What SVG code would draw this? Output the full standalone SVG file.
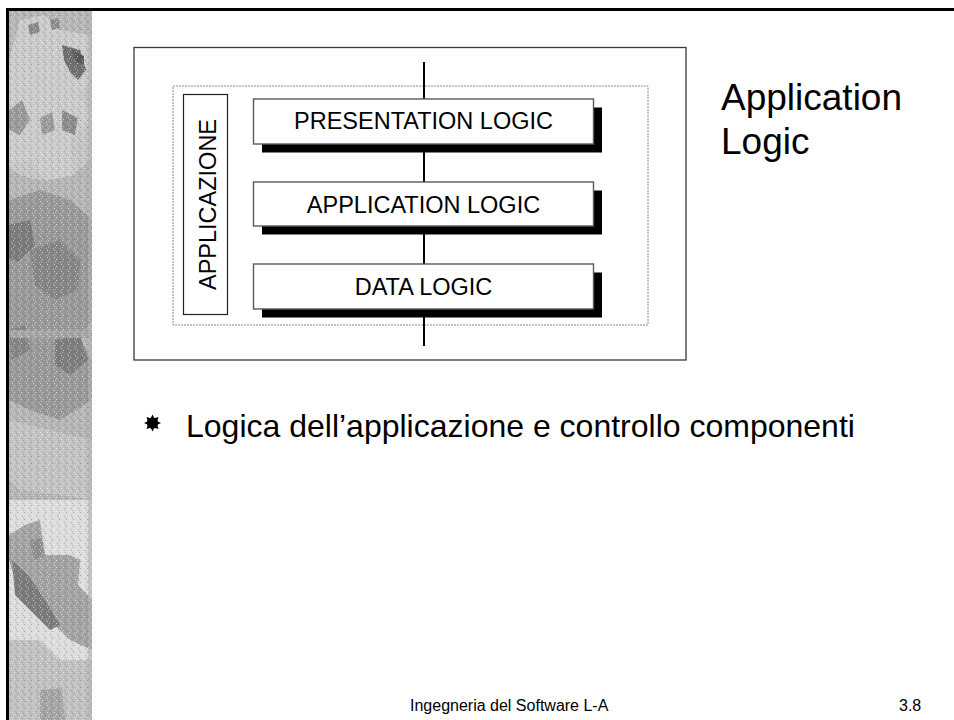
<svg xmlns="http://www.w3.org/2000/svg" width="954" height="720" viewBox="0 0 954 720">
  <style>
    .t { font-family: "Liberation Sans", Arial, sans-serif; fill: #000; }
    .lbl { font-size: 23.5px; text-anchor: middle; }
    .box { fill: #fff; stroke: #5a5a5a; stroke-width: 1.4; }
    .shadow { fill: #000; }
  </style>
  <defs>
    <pattern id="stip" width="7" height="7" patternUnits="userSpaceOnUse">
      <rect x="0" y="0" width="1" height="1" fill="#ffffff" opacity="0.6"/>
      <rect x="3" y="1" width="1" height="1" fill="#6a6a6a" opacity="0.5"/>
      <rect x="1" y="4" width="1" height="1" fill="#8a8a8a" opacity="0.5"/>
      <rect x="5" y="5" width="1" height="1" fill="#ffffff" opacity="0.6"/>
      <rect x="6" y="2" width="1" height="1" fill="#f0f0f0" opacity="0.5"/>
      <rect x="2" y="6" width="1" height="1" fill="#707070" opacity="0.4"/>
      <rect x="4" y="3" width="1" height="1" fill="#ffffff" opacity="0.4"/>
    </pattern>
    <clipPath id="stripClip"><rect x="9" y="11" width="83" height="709"/></clipPath>
  </defs>

  <rect x="0" y="0" width="954" height="720" fill="#fff"/>

  <!-- decorative gear strip -->
  <g id="gear-strip" clip-path="url(#stripClip)">
    <rect x="9" y="11" width="83" height="709" fill="#b4b4b4"/>
    <!-- top gear -->
    <circle cx="45" cy="120" r="60" fill="#c4c4c4"/>
    <path d="M20,20 L45,15 L60,30 L90,35 L92,80 L80,95 L92,120 L70,140 L75,175 L45,180 L30,160 L9,165 L9,60 Z" fill="#cacaca"/>
    <path d="M62,45 L80,50 L86,70 L78,80 L70,72 L64,60 Z" fill="#6e6e6e"/>
    <path d="M72,50 L84,56 L84,64 L76,62 Z" fill="#555"/>
    <path d="M28,25 L38,22 L40,32 L30,35 Z" fill="#888"/>
    <path d="M50,20 L58,18 L60,28 L52,30 Z" fill="#8c8c8c"/>
    <path d="M62,110 L78,118 L75,135 L62,130 Z" fill="#8a8a8a"/>
    <path d="M9,110 L22,100 L30,120 L20,135 L9,130 Z" fill="#999"/>
    <path d="M40,118 L52,112 L55,130 L42,135 Z" fill="#9a9a9a"/>
    <!-- middle dark gear -->
    <path d="M9,200 L40,190 L70,200 L92,220 L92,320 L80,340 L92,360 L92,400 L60,420 L30,410 L9,400 Z" fill="#989898"/>
    <path d="M30,250 L60,240 L80,260 L78,290 L55,300 L35,285 Z" fill="#858585"/>
    <path d="M9,225 L30,220 L35,245 L18,262 L9,258 Z" fill="#7a7a7a"/>
    <path d="M55,340 L80,335 L88,360 L70,375 L55,365 Z" fill="#7c7c7c"/>
    <path d="M9,330 L25,325 L30,350 L12,360 Z" fill="#828282"/>
    <rect x="9" y="330" width="83" height="8" fill="#a4a4a4"/>
    <!-- lower area -->
    <path d="M9,420 L50,430 L92,440 L92,500 L60,495 L20,490 L9,480 Z" fill="#c2c2c2"/>
    <path d="M9,500 L92,500 L92,720 L9,720 Z" fill="#dcdcdc"/>
    <path d="M25,525 L40,520 L45,555 L70,555 L80,560 L78,585 L92,600 L92,650 L70,640 L55,625 L35,615 L18,590 L9,560 L9,535 Z" fill="#a2a2a2"/>
    <path d="M12,560 L28,575 L45,600 L60,625 L50,630 L30,610 L15,595 Z" fill="#7a7a7a"/>
    <path d="M30,540 L42,538 L44,556 L34,560 Z" fill="#8e8e8e"/>
    <path d="M9,640 L40,640 L60,660 L92,660 L92,720 L9,720 Z" fill="#c0c0c0"/>
    <path d="M40,690 L62,688 L65,720 L40,720 Z" fill="#a4a4a4"/>
    <rect x="88" y="11" width="4" height="709" fill="#a9a9a9" opacity="0.6"/>
    <rect x="9" y="11" width="83" height="709" fill="url(#stip)"/>
  </g>

  <!-- slide frame -->
  <g id="frame" fill="none" stroke="#000" stroke-width="3">
    <line x1="6" y1="9.5" x2="954" y2="9.5"/>
    <line x1="7.5" y1="8" x2="7.5" y2="720"/>
  </g>

  <!-- diagram frame -->
  <g id="diagram-frame">
    <rect x="134" y="47.5" width="552" height="312.5" fill="#fff" stroke="#3a3a3a" stroke-width="1.3"/>
    <rect x="173" y="86" width="475" height="239" fill="none" stroke="#8a8a8a" stroke-width="1" stroke-dasharray="2 1"/>
  </g>

  <!-- connectors -->
  <g id="connectors">
    <line x1="424" y1="62" x2="424" y2="346" stroke="#000" stroke-width="2"/>
  </g>

  <g id="applicazione">
    <rect x="183.5" y="94.5" width="44" height="220" fill="#fff" stroke="#222" stroke-width="1.2"/>
    <text class="t lbl" transform="translate(215.5,204.5) rotate(-90)" x="0" y="0">APPLICAZIONE</text>
  </g>

  <g id="presentation-logic">
    <rect class="shadow" x="262" y="107.5" width="340" height="45"/>
    <rect class="box" x="253.5" y="99" width="340" height="45"/>
    <text class="t lbl" x="423.5" y="129.3">PRESENTATION LOGIC</text>
  </g>

  <g id="application-logic">
    <rect class="shadow" x="262" y="190.5" width="340" height="44"/>
    <rect class="box" x="253.5" y="182" width="340" height="44"/>
    <text class="t lbl" x="423.5" y="212.7">APPLICATION LOGIC</text>
  </g>

  <g id="data-logic">
    <rect class="shadow" x="262" y="272.5" width="340" height="45"/>
    <rect class="box" x="253.5" y="264" width="340" height="45"/>
    <text class="t lbl" x="423.5" y="295">DATA LOGIC</text>
  </g>

  <g id="title">
    <text class="t" x="721" y="110" font-size="37">Application</text>
    <text class="t" x="721" y="154" font-size="37">Logic</text>
  </g>

  <g id="bullet">
    <polygon fill="#000" points="152.5,414.5 154.3,418.3 158.5,417 157.2,421.2 161,423 157.2,424.8 158.5,429 154.3,427.7 152.5,431.5 150.7,427.7 146.5,429 147.8,424.8 144,423 147.8,421.2 146.5,417 150.7,418.3"/>
    <circle cx="152.5" cy="423" r="5.6" fill="#000"/>
    <text class="t" x="186" y="436.5" font-size="32">Logica dell’applicazione e controllo componenti</text>
  </g>

  <g id="footer">
    <text class="t" x="410" y="710.5" font-size="16">Ingegneria del Software L-A</text>
    <text class="t" x="899" y="710.5" font-size="16">3.8</text>
  </g>
</svg>
